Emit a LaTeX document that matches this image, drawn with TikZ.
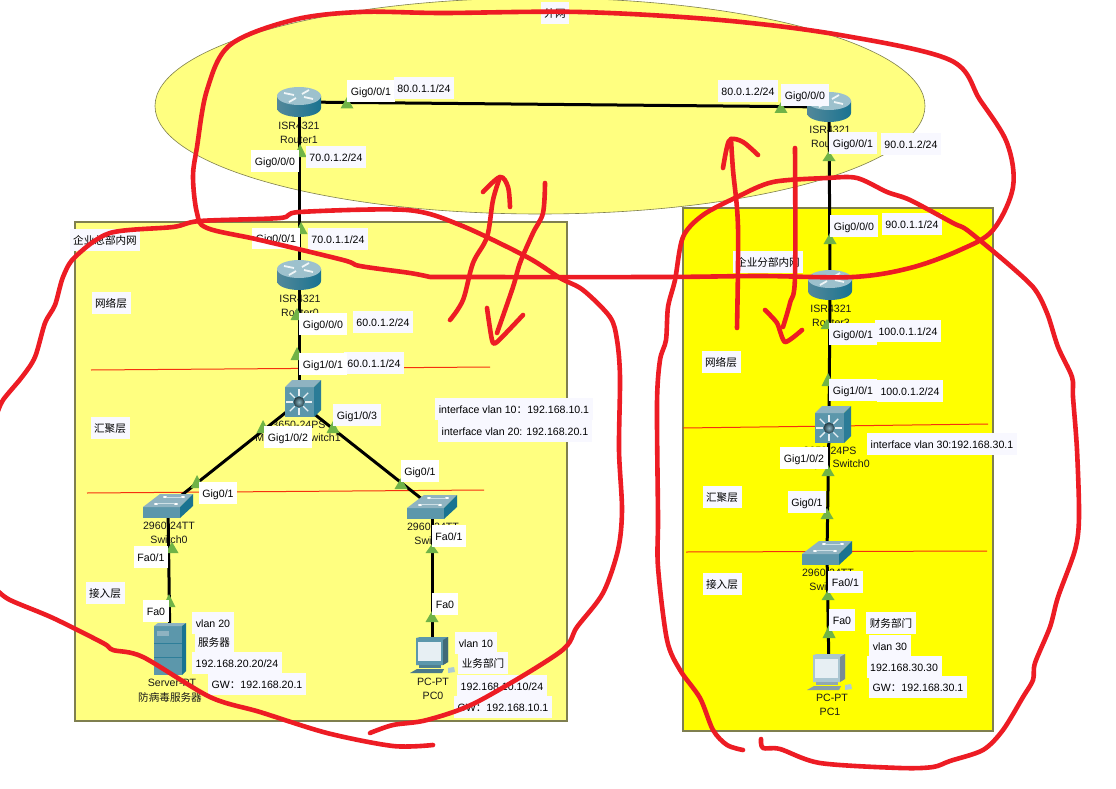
\documentclass[tikz,border=0pt]{standalone}
\usepackage{fontspec}
\setmainfont{Liberation Sans}
\newfontfamily\cjk{Noto Sans CJK SC}
\usetikzlibrary{shapes.geometric,calc}
\definecolor{softyellow}{HTML}{FFFF80}
\definecolor{pureyellow}{HTML}{FFFF00}
\definecolor{boxedge}{HTML}{7F7F4F}
\definecolor{inkred}{HTML}{ED1C24}
\definecolor{layerred}{HTML}{F5300F}
\definecolor{portgreen}{HTML}{70B347}
\definecolor{ghost}{HTML}{F8F8FF}
\definecolor{teal}{HTML}{5C97AB}
\definecolor{tealdark}{HTML}{1A7391}
\definecolor{teallight}{HTML}{8FB3C1}
\newcommand{\zh}[1]{{\cjk #1}}
\tikzset{
  sized/.style={font=\fontsize{10.6}{12}\selectfont,text=black},
  portlab/.style={sized,fill=white,inner xsep=3.6pt,inner ysep=5.8pt,text height=9pt,text depth=0.5pt},
  iplab/.style={portlab,fill=ghost},
  devlab/.style={sized,inner sep=0pt,text=black!90},
  anchorbox/.style={inner sep=0pt,minimum size=1pt},
  link/.style={line width=3pt,black},
  layerline/.style={line width=1pt,layerred},
  ink/.style={line width=4.6pt,inkred,line cap=round,line join=round},
  zone/.style={draw=boxedge,line width=1.4pt},
}
\newcommand{\tri}[3]{\fill[portgreen] (#1-6.5,#3) -- (#1+6.5,#3) -- (#1,#2) -- cycle;}
\newcommand{\routericon}[1]{\begin{scope}[shift={(#1)}]
  \shade[left color=teal!90!black,middle color=white!80!teal,right color=tealdark]
    (-22,-6) -- (-22,6) .. controls (-22,11) and (-12,15) .. (0,15) .. controls (12,15) and (22,11) .. (22,6) -- (22,-6) -- cycle;
  \fill[teal!60!white] (0,-6) ellipse[x radius=22,y radius=9];
  \draw[white!90!teal,line width=1.8pt] (-15,-9) -- (-5,-7) (14,-3) -- (5,-5) (3,-8) -- (10,-12) (-3,-4) -- (-10,0);
\end{scope}}
\newcommand{\mlsicon}[1]{\begin{scope}[shift={(#1)}]
  \fill[teal] (-14,-15) rectangle (15,15);
  \fill[teallight] (-14,-15) -- (-7,-22) -- (22,-22) -- (15,-15) -- cycle;
  \fill[tealdark!75!teal] (15,-15) -- (22,-22) -- (22,8) -- (15,15) -- cycle;
  \foreach \a in {0,45,...,315} \draw[white!85!teal,line width=1.4pt] (\a:6) -- (\a:13);
  \shade[inner color=teal!70!white,outer color=teal!40!black] (0,0) circle (5.5);
\end{scope}}
\newcommand{\switchicon}[1]{\begin{scope}[shift={(#1)}]
  \fill[teal] (-25,1) rectangle (12,12);
  \fill[teallight] (-25,1) -- (-8,-12) -- (25,-12) -- (12,1) -- cycle;
  \fill[tealdark] (12,1) -- (25,-12) -- (25,0) -- (12,12) -- cycle;
  \foreach \p/\q in {-12/-2,8/-2,-3/-9,15/-9} \fill[white] (\p,\q) ellipse[x radius=2,y radius=1];
  \draw[white!70!teal,line width=.6pt] (-10,-3) -- (6,-3) (-1,-9) -- (13,-9);
\end{scope}}
\newcommand{\servericon}[1]{\begin{scope}[shift={(#1)}]
  \fill[teal] (-16,-23) rectangle (12,26);
  \fill[teallight] (-16,-23) -- (-12,-26) -- (16,-26) -- (12,-23) -- cycle;
  \fill[tealdark] (12,-23) -- (16,-26) -- (16,22) -- (12,26) -- cycle;
  \fill[teallight] (-13,-18) rectangle (-1,-13);
  \draw[tealdark!70!teal,line width=.7pt] (-16,-6) -- (12,-6) (-16,8) -- (12,8);
\end{scope}}
\newcommand{\pcicon}[2]{\begin{scope}[shift={(#1)}]
  \fill[#2] (-16,-17) -- (-12,-18) -- (16,-18) -- (16,7) -- (11,10) -- (-16,10) -- cycle;
  \fill[#2!70!black] (11,-15) -- (16,-18) -- (16,7) -- (11,10) -- cycle;
  \fill[white!85!teal] (-14,-13) rectangle (9,6);
  \fill[#2!85!black] (-13,10) rectangle (9,13);
  \fill[#2!80!black] (-15,14) -- (12,14) -- (10,18) -- (-22,18) -- cycle;
  \fill[white!50!teal] (16,13) -- (22,12) -- (23,17) -- (16,18) -- cycle;
\end{scope}}
\begin{document}
\begin{tikzpicture}[x=1pt,y=-1pt]
\useasboundingbox (0,0) rectangle (1116,789);
\clip (0,0) rectangle (1116,789);
\fill[white] (0,0) rectangle (1116,789);
% zones
\draw[fill=softyellow,draw=boxedge,line width=.6pt] (540,106) ellipse[x radius=385,y radius=108];
\fill[fill=softyellow] (75,222) rectangle (567,721);
\draw[zone] (75,222) rectangle (567,721);
\fill[fill=pureyellow] (683,208) rectangle (993,731);
\draw[zone] (683,208) rectangle (993,731);
% layer lines
\coordinate (la) at (91,370); \coordinate (lb) at (490,367);
\coordinate (lc) at (87,493); \coordinate (ld) at (484,490);
\coordinate (le) at (683,428); \coordinate (lf) at (988,424);
\coordinate (lg) at (686,552); \coordinate (lh) at (987,551);
\draw[layerline] (la) -- (lb);
\draw[layerline] (lc) -- (ld);
\draw[layerline] (le) -- (lf);
\draw[layerline] (lg) -- (lh);
% device anchors
\node[anchorbox] (r1) at (299,102) {};
\node[anchorbox] (r0) at (299,275) {};
\node[anchorbox] (m1) at (299,402) {};
\node[anchorbox] (s0) at (168,506) {};
\node[anchorbox] (s1) at (432,507) {};
\node[anchorbox] (srv) at (170,649) {};
\node[anchorbox] (pc0) at (432,655) {};
\node[anchorbox] (r2) at (829,107) {};
\node[anchorbox] (r3) at (830,285) {};
\node[anchorbox] (m0) at (829,428) {};
\node[anchorbox] (s2) at (827,553) {};
\node[anchorbox] (pc1) at (829,672) {};
% device captions
\node[devlab] (c1a) at (299,126) {ISR4321};
\node[devlab] (c1b) at (299,140) {Router1};
\node[devlab] (c0a) at (300,299) {ISR4321};
\node[devlab] (c0b) at (300,313) {Router0};
\node[devlab] (c2a) at (830,130) {ISR4321};
\node[devlab] (c2b) at (830,144) {Router2};
\node[devlab] (c3a) at (831,309) {ISR4321};
\node[devlab] (c3b) at (831,323) {Router3};
\node[devlab] (cm1a) at (299,425) {3650-24PS};
\node[devlab] (cm1b) at (298,439) {Multilayer Switch1};
\node[devlab] (cm0a) at (830,451) {3650-24PS};
\node[devlab] (cm0b) at (827,465) {Multilayer Switch0};
\node[devlab] (cs0a) at (169,526) {2960-24TT};
\node[devlab] (cs0b) at (169,540) {Switch0};
\node[devlab] (cs1a) at (433,527) {2960-24TT};
\node[devlab] (cs1b) at (433,541) {Switch1};
\node[devlab] (cs2a) at (828,573) {2960-24TT};
\node[devlab] (cs2b) at (828,587) {Switch2};
\node[devlab] (csva) at (172,683) {Server-PT};
\node[devlab] (csvb) at (170,697) {\zh{防病毒服务器}};
\node[devlab] (cp0a) at (433,682) {PC-PT};
\node[devlab] (cp0b) at (433,696) {PC0};
\node[devlab] (cp1a) at (832,698) {PC-PT};
\node[devlab] (cp1b) at (830,712) {PC1};
% connectors
\draw[link] (r1.center) -- (r2.center);
\draw[link] (r1.center) -- (r0.center);
\draw[link] (r0.center) -- (m1.center);
\draw[link] (m1.center) -- (s0.center);
\draw[link] (m1.center) -- (s1.center);
\draw[link] (s0.center) -- (srv.center);
\draw[link] (s1.center) -- (pc0.center);
\draw[link] (r2.center) -- (r3.center);
\draw[link] (r3.center) -- (m0.center);
\draw[link] (m0.center) -- (s2.center);
\draw[link] (s2.center) -- (pc1.center);
% port triangles
\tri{347}{97}{108.5}\tri{300}{144}{157}\tri{301}{222}{234}\tri{297}{308}{320}\tri{297}{347}{360}
\tri{263}{420}{433}\tri{333}{421}{433}\tri{197}{475}{488}\tri{401}{478}{489}
\tri{172}{542}{553}\tri{432}{544}{553}\tri{169}{594}{607}\tri{432}{611}{622}
\tri{781}{102}{113}\tri{829}{151}{161}\tri{830}{233}{244}\tri{827}{319}{329}\tri{828}{373}{386}
\tri{828}{465}{476}\tri{827}{508}{519}\tri{828}{590}{600}\tri{829}{625}{638}
% icons
\routericon{r1}\routericon{r0}\routericon{r2}\routericon{r3}
\mlsicon{m1}\mlsicon{m0}
\switchicon{s0}\switchicon{s1}\switchicon{s2}
\servericon{srv}
\pcicon{pc0}{teal}
\pcicon{pc1}{teallight!75!white}
% labels : left
\node[iplab] (t0) at (555,13) {\zh{外网}};
\node[portlab] (t1) at (371,91) {Gig0/0/1};
\node[iplab] (t2) at (424,88) {80.0.1.1/24};
\node[portlab] (t3) at (275,161) {Gig0/0/0};
\node[iplab] (t4) at (336,157) {70.0.1.2/24};
\node[portlab] (t5) at (276,238.5) {Gig0/0/1};
\node[iplab] (t6) at (338,239) {70.0.1.1/24};
\node[iplab] (t7) at (105,240) {\zh{企业总部内网}};
\node[iplab] (t8) at (111,303) {\zh{网络层}};
\node[portlab] (t9) at (323,324) {Gig0/0/0};
\node[iplab] (t10) at (383,322) {60.0.1.2/24};
\node[iplab] (t12) at (374,363) {60.0.1.1/24};
\node[portlab] (t11) at (323,364) {Gig1/0/1};
\node[iplab] (t13) at (514,409) {interface vlan 10\zh{：}192.168.10.1};
\node[iplab] (t14) at (515,431) {interface vlan 20: 192.168.20.1};
\node[iplab] (t15) at (357,415) {Gig1/0/3};
\node[portlab] (t16) at (288,437) {Gig1/0/2};
\node[iplab] (t17) at (110,428) {\zh{汇聚层}};
\node[portlab] (t18) at (218,493) {Gig0/1};
\node[portlab] (t19) at (420,471) {Gig0/1};
\node[portlab] (t20) at (151,557) {Fa0/1};
\node[portlab] (t21) at (449,536) {Fa0/1};
\node[iplab] (t22) at (105,593) {\zh{接入层}};
\node[portlab] (t23) at (156,611) {Fa0};
\node[portlab] (t24) at (445,604) {Fa0};
\node[iplab] (t25) at (213,623) {vlan 20};
\node[iplab] (t26) at (214,642) {\zh{服务器}};
\node[iplab] (t27) at (237,663) {192.168.20.20/24};
\node[iplab] (t28) at (257,684) {GW\zh{：}192.168.20.1};
\node[iplab] (t29) at (476,643) {vlan 10};
\node[iplab] (t30) at (483,663) {\zh{业务部门}};
\node[iplab] (t31) at (502,686) {192.168.10.10/24};
\node[iplab] (t32) at (503,707) {GW\zh{：}192.168.10.1};
% labels : right
\node[iplab] (u1) at (748,91) {80.0.1.2/24};
\node[iplab] (u2) at (805,95) {Gig0/0/0};
\node[iplab] (u3) at (853,143) {Gig0/0/1};
\node[iplab] (u4) at (911,144) {90.0.1.2/24};
\node[iplab] (u5) at (854,226) {Gig0/0/0};
\node[iplab] (u6) at (912,224) {90.0.1.1/24};
\node[iplab] (u7) at (768,262) {\zh{企业分部内网}};
\node[iplab] (u8) at (721,362) {\zh{网络层}};
\node[iplab] (u10) at (908,331) {100.0.1.1/24};
\node[iplab] (u9) at (853,334) {Gig0/0/1};
\node[iplab] (u11) at (853,390) {Gig1/0/1};
\node[iplab] (u12) at (910,391) {100.0.1.2/24};
\node[iplab] (u13) at (942,444) {interface vlan 30:192.168.30.1};
\node[portlab] (u14) at (804,458) {Gig1/0/2};
\node[portlab,fill=ghost] (u15) at (807,502) {Gig0/1};
\node[iplab] (u16) at (722,497) {\zh{汇聚层}};
\node[iplab] (u17) at (722,584) {\zh{接入层}};
\node[iplab] (u18) at (845.5,582) {Fa0/1};
\node[iplab] (u19) at (842,620) {Fa0};
\node[iplab] (u20) at (891,623) {\zh{财务部门}};
\node[iplab] (u21) at (890,646) {vlan 30};
\node[iplab] (u22) at (904,667) {192.168.30.30};
\node[iplab] (u23) at (918,687) {GW\zh{：}192.168.30.1};
% hand-drawn red ink
\draw[ink] plot[smooth,tension=.55] coordinates {(430,277) (410,273) (360,266) (343,260) (260,240) (207,228) (197,213) (193,177) (197,147) (207,90) (230,45) (293,20) (360,12) (443,13) (580,12) (720,20) (840,35) (950,60) (980,100) (1007,143) (1013,187) (993,230) (960,250) (910,268) (853,277) (760,276) (660,277) (430,277)};
\draw[ink] plot[smooth,tension=.5] coordinates {(-3,414) (3,400) (22,377) (35,357) (45,323) (55,305) (63,277) (75,257) (110,233) (173,227) (200,221) (280,218) (300,212) (407,210) (460,225) (527,257) (560,278) (583,290) (610,317) (617,340) (620,377) (619,450) (622,510) (618,550) (603,593) (577,627) (560,652) (477,702) (427,720) (393,725) (370,733)};
\draw[ink] plot[smooth,tension=.5] coordinates {(-3,590) (10,600) (53,618) (103,643) (113,650) (143,657) (210,697) (260,712) (327,733) (393,746) (433,745)};
\draw[ink] plot[smooth,tension=.5] coordinates {(1000,257) (967,230) (953,223) (910,200) (887,192) (857,178) (827,178) (773,182) (737,197) (703,215) (683,237) (675,280) (668,307) (666,340) (660,360) (657,403) (658,517) (658,567) (667,640) (680,670) (700,698) (713,730) (727,745) (743,750)};
\draw[ink] plot[smooth,tension=.5] coordinates {(761,739) (763,748) (780,749) (820,763) (900,768) (933,767) (950,761) (983,750) (1003,730) (1023,697) (1033,680) (1035,663) (1050,627) (1058,597) (1075,550) (1079,517) (1077,450) (1073,397) (1072,377) (1058,347) (1047,313) (1033,287) (1000,257)};
\draw[ink] plot[smooth,tension=.55] coordinates {(450,320) (463,300) (473,263) (487,237) (493,200) (500,177)};
\draw[ink] plot[smooth,tension=.55] coordinates {(483,192) (500,177) (508,187) (510,207)};
\draw[ink] plot[smooth,tension=.55] coordinates {(545,183) (543,213) (533,233) (520,263) (513,287) (497,333)};
\draw[ink] plot[smooth,tension=.4] coordinates {(487,308) (492,340) (497,342) (523,315)};
\draw[ink] plot[smooth,tension=.55] coordinates {(737,328) (738,227) (733,170) (731,139)};
\draw[ink] plot[smooth,tension=.55] coordinates {(723,168) (727,147) (731,139) (743,142) (758,155)};
\draw[ink] plot[smooth,tension=.55] coordinates {(795,148) (795,277) (790,303) (783,327)};
\draw[ink] plot[smooth,tension=.4] coordinates {(765,310) (777,323) (785,342) (802,330)};
\end{tikzpicture}
\end{document}
